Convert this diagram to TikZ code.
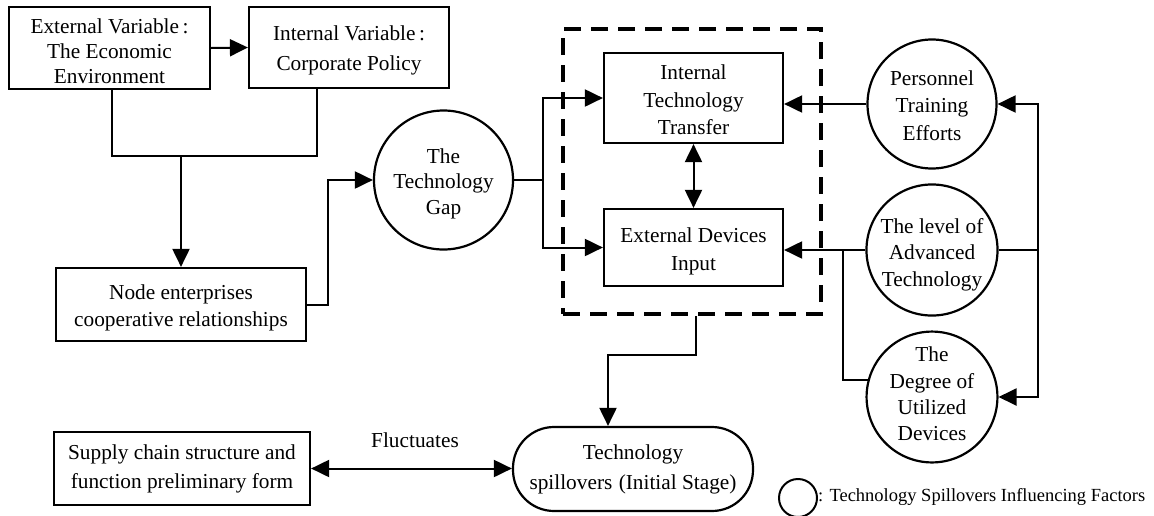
\documentclass[tikz,border=0pt]{standalone}
\usepackage{fontspec}
\setmainfont{Liberation Serif}
\usetikzlibrary{arrows.meta}
% struts that nudge a node's text block down (first line) or up (last line)
\newcommand\lowerby[1]{\rule{0pt}{\dimexpr15pt+#1*2\relax}}
\newcommand\raiseby[1]{\rule[-\dimexpr#1*2\relax]{0pt}{\dimexpr#1*2\relax}}
\begin{document}
\begin{tikzpicture}[x=1pt,y=-1pt,
  txt/.style={font=\fontsize{21.3}{#1}\selectfont},
  every node/.style={align=center, inner sep=0pt, txt=26.5},
  box/.style={draw, line width=2.2pt},
  factor/.style={circle, draw, line width=2.2pt, minimum size=129pt},
  conn/.style={line width=2pt},
  tip/.tip={Triangle[length=18pt,width=17pt]},
  arr/.style={conn, -tip},
  darr/.style={conn, tip-tip},
  frame/.style={draw, line width=4.5pt, dash pattern=on 17pt off 10pt}
]
\useasboundingbox (0,0) rectangle (1154,515);

% variables and enterprise relations
\node[box, minimum width=201pt, minimum height=82pt, txt=25] (ext) at (109.5,48)
  {\lowerby{3pt}External Variable\,:\\The Economic\\Environment};
\node[box, minimum width=200pt, minimum height=81pt, txt=30] (intv) at (349,47.5)
  {\lowerby{3pt}Internal Variable\,:\\Corporate Policy};
\node[box, minimum width=250pt, minimum height=73pt, txt=27] (ent) at (181,304.5)
  {\lowerby{3pt}Node enterprises\\cooperative relationships};
\node[factor, minimum size=139pt, txt=25.5] (gap) at (443.5,180)
  {\lowerby{3.5pt}The\\Technology\\Gap};

% technology transfer channels
\node[frame, minimum width=258pt, minimum height=285pt] (frm) at (692,171.5) {};
\node[box, minimum width=179pt, minimum height=90pt, txt=27.5] (itt) at (693.5,98)
  {\lowerby{2pt}Internal\\Technology\\Transfer};
\node[box, minimum width=179pt, minimum height=77pt, txt=28] (edi) at (693.5,247.5)
  {\lowerby{4pt}External Devices\\Input};

% influencing factors
\node[factor, txt=27.5] (pers) at (932,104) {\lowerby{1.5pt}Personnel\\Training\\Efforts};
\node[factor] (lvl) at (932,250) {\lowerby{4.5pt}The level of\\Advanced\\Technology};
\node[factor, txt=26.3] (deg) at (932,397) {The\\Degree of\\Utilized\\Devices\raiseby{3pt}};

% outcome
\node[box, rounded corners=41pt, minimum width=240pt, minimum height=84pt, txt=30] (sp) at (633,469)
  {Technology\\spillovers\hspace{0.3em}(Initial Stage)};
\node[box, minimum width=256pt, minimum height=73pt, txt=29] (sup) at (182,468.5)
  {Supply chain structure and\\function preliminary form};
\node (fl) at (415,440) {Fluctuates};

% legend
\node[circle, draw, line width=2pt, minimum size=38pt] (leg) at (798,498) {};
\node[anchor=west, font=\fontsize{18.5}{22}\selectfont] (legt) at (818,497)
  {: Technology Spillovers Influencing Factors};

% connectors
\coordinate (jn) at (181,156);
\coordinate (gb) at (543,180);
\coordinate (br) at (843,250);
\coordinate (rb) at (1038,250);

\draw[arr] (ext.east) -- (intv.west);
\draw[conn] ([xshift=2.5pt]ext.south) |- (jn) -| ([xshift=-32pt]intv.south);
\draw[arr] (jn) -- (ent.north);
\draw[arr] (ent.east) -- ++(21,0) |- (gap.west);
\draw[conn] (gap.east) -- (gb);
\draw[arr] (gb) |- (itt.west);
\draw[arr] (gb) |- (edi.west);
\draw[darr] (itt.south) -- (edi.north);
\draw[arr] (pers.west) -- (pers.west -| itt.east);
\draw[arr] (lvl.west) -- (lvl.west -| edi.east);
\draw[conn] (br) |- (deg.165);
\draw[conn] (lvl.east) -- (rb);
\draw[arr] (rb) |- (pers.east);
\draw[arr] (rb) |- (deg.east);
\draw[arr] ([xshift=4pt]frm.south) -- ++(0,39) -| ([xshift=-25pt]sp.north);
\draw[darr] (sup.east) -- (sup.east -| sp.west);
\end{tikzpicture}
\end{document}
